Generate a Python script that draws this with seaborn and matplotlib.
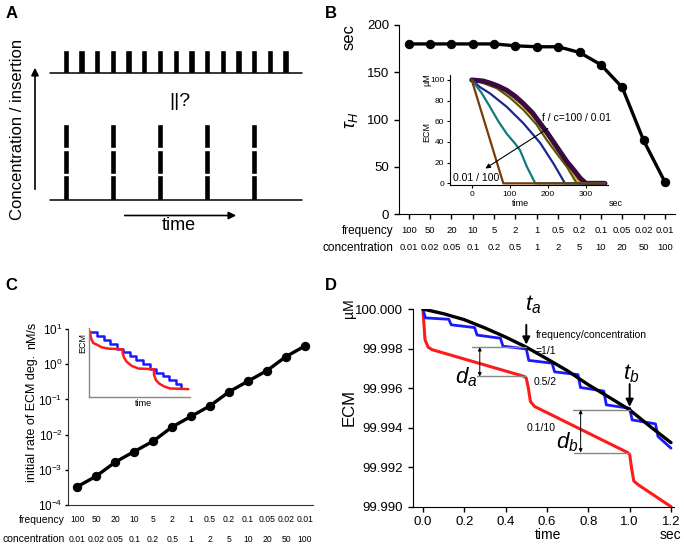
import matplotlib
matplotlib.use('Agg')
import matplotlib.pyplot as plt
import seaborn as sns
from matplotlib.ticker import NullLocator

# ---- panel A: pulse schedules (same total dose) ----
pulse_times_fast = [0, 1, 2, 3, 4, 5, 6, 7, 8, 9, 10, 11, 12, 13, 14]
pulse_times_slow = [0, 3, 6, 9, 12]
doses_per_slow_pulse = 3

# ---- shared x categories for B and C ----
frequency = ['100', '50', '20', '10', '5', '2', '1', '0.5', '0.2', '0.1', '0.05', '0.02', '0.01']
concentration = ['0.01', '0.02', '0.05', '0.1', '0.2', '0.5', '1', '2', '5', '10', '20', '50', '100']

# ---- panel B ----
tau_h = [180, 180, 180, 180, 180, 178, 177, 177, 171, 158, 134, 78, 34]

# panel B inset: ECM (uM) vs time (sec)
brown_t = [0, 83, 350]
brown_v = [100, 0, 0]
teal_t = [0, 25, 48, 70, 92, 115, 127, 145, 167, 350]
teal_v = [100, 88, 74, 60, 48, 38, 32, 16, 0, 0]
navy_t = [0, 22, 48, 92, 136, 180, 215, 245, 350]
navy_v = [100, 93, 87, 74, 58, 39, 19, 0, 0]
olive_t = [0, 30, 66, 100, 136, 170, 197, 225, 250, 276, 350]
olive_v = [100, 97, 92, 83, 71, 57, 42, 28, 16, 0, 0]
gold_t = [0, 30, 66, 100, 136, 170, 197, 225, 250, 285, 350]
gold_v = [100, 98, 94, 86, 75, 61, 47, 32, 19, 0, 0]
top_t = [0, 30, 48, 70, 92, 115, 136, 160, 180, 200, 224, 250, 268, 285, 300, 350]
top_v = [100, 99, 97, 94, 90, 84, 77, 68, 58, 48, 35, 21, 13, 5, 0, 0]

# ---- panel C ----
initial_rate = [3.3e-4, 6.6e-4, 1.65e-3, 3.3e-3, 6.5e-3, 1.65e-2, 3.3e-2,
                6.6e-2, 0.165, 0.33, 0.66, 1.65, 3.3]

# panel C inset (arbitrary units)
step_t = [0.1, 0.8, 1.5, 2.1, 2.8, 3.4, 4.1, 4.7, 5.4, 6.1, 6.7, 7.4, 8.0, 8.7, 9.2]
step_v = [0.94, 0.88, 0.82, 0.76, 0.70, 0.65, 0.59, 0.53, 0.47, 0.41, 0.35, 0.30, 0.24, 0.18, 0.12]
bolus_t = [0.07, 0.17, 0.4, 0.73, 1.23, 1.9, 3.33, 3.33, 3.47, 3.73, 4.23, 4.9,
           6.47, 6.47, 6.67, 7.0, 7.47, 8.07, 9.9]
bolus_v = [0.95, 0.85, 0.78, 0.76, 0.72, 0.70, 0.69, 0.64, 0.57, 0.51, 0.45, 0.41,
           0.40, 0.32, 0.24, 0.19, 0.15, 0.12, 0.11]

# ---- panel D ----
black_t = [0, 0.1, 0.2, 0.3, 0.4, 0.5, 0.6, 0.7, 0.8, 0.9, 1.0, 1.1, 1.2]
black_v = [100.0, 99.99976, 99.99946, 99.99904, 99.99858, 99.99807, 99.99748,
           99.99687, 99.99617, 99.99554, 99.9949, 99.99405, 99.99324]
blue_t = [0.0, 0.012, 0.125, 0.137, 0.25, 0.262, 0.375, 0.387, 0.5, 0.512, 0.625,
          0.637, 0.75, 0.762, 0.875, 0.887, 1.0, 1.012, 1.125, 1.137, 1.2]
blue_v = [100.0, 99.99955, 99.99948, 99.99920, 99.99906, 99.99868, 99.99852,
          99.99812, 99.99798, 99.99740, 99.99726, 99.99682, 99.99668, 99.99603,
          99.99585, 99.99515, 99.99498, 99.99439, 99.99419, 99.99355, 99.99296]
red_t = [0, 0.01, 0.025, 0.045, 0.49, 0.5, 0.51, 0.52, 0.54, 0.99, 1.0, 1.01,
         1.02, 1.04, 1.2]
red_v = [100.0, 99.99845, 99.99807, 99.99794, 99.99659, 99.9965, 99.996, 99.99532,
         99.99507, 99.99274, 99.99265, 99.9919, 99.9913, 99.99112, 99.99]

sns.set_style('ticks', {'axes.edgecolor': 'black', 'xtick.color': 'black',
                        'ytick.color': 'black', 'text.color': 'black'})
plt.rcParams['font.family'] = ['Liberation Sans', 'DejaVu Sans']
plt.rcParams['mathtext.fontset'] = 'custom'
plt.rcParams['mathtext.rm'] = 'Liberation Sans'
plt.rcParams['mathtext.it'] = 'Liberation Sans:italic'

W, H = 684, 546
fig = plt.figure(figsize=(W / 100, H / 100), dpi=100)


def box(left, top, right, bottom):
    return [left / W, 1 - bottom / H, (right - left) / W, (bottom - top) / H]


def ftext(x, y, s, **kw):
    kw.setdefault('ha', 'center')
    kw.setdefault('va', 'center')
    fig.text(x / W, 1 - y / H, s, **kw)


def tick_rows(ax, offsets, fs_num, fs_name, gap):
    for labels, name, dy in zip([frequency, concentration],
                                ['frequency', 'concentration'], offsets):
        for i, lab in enumerate(labels):
            ax.annotate(lab, xy=(i, 0), xycoords=('data', 'axes fraction'),
                        xytext=(0, -dy * 0.72), textcoords='offset points',
                        ha='center', va='center', fontsize=fs_num)
        ax.annotate(name, xy=(0, 0), xycoords=('data', 'axes fraction'),
                    xytext=(-gap * 0.72, -dy * 0.72), textcoords='offset points',
                    ha='right', va='center', fontsize=fs_name)


# ================= A =================
axA = fig.add_axes(box(0, 0, 342, 273))
axA.set_xlim(-4.182, 17.588)
axA.set_ylim(273, 0)
axA.axis('off')
top_base, low_base = 73.3, 200
span = [pulse_times_fast[0] - 1, pulse_times_fast[-1] + 1.04]
axA.plot(span, [top_base] * 2, color='black', lw=1.1)
axA.plot(span, [low_base] * 2, color='black', lw=1.1)
axA.bar(pulse_times_fast, -23, bottom=top_base, width=0.4, color='black')
for k in range(doses_per_slow_pulse):
    axA.bar(pulse_times_slow, -24.6, bottom=low_base - 25.9 * k, width=0.4, color='black')
axA.annotate('', xy=(-1.954, 65), xytext=(-1.954, 192),
             arrowprops=dict(arrowstyle='-|>', color='black', lw=1.2, mutation_scale=11))
axA.annotate('', xy=(11.03, 215.5), xytext=(3.58, 215.5),
             arrowprops=dict(arrowstyle='-|>', color='black', lw=1.2, mutation_scale=11))
ftext(18, 129, 'Concentration / insertion', rotation=90, fontsize=12)
ftext(180, 102, '||?', fontsize=14)
ftext(179, 225, 'time', fontsize=13)

# ================= B =================
axB = fig.add_axes(box(398.7, 25, 675, 214.3))
x_idx = list(range(len(frequency)))
sns.lineplot(x=x_idx, y=tau_h, ax=axB, color='black', lw=2.4, marker='o',
             markersize=6, markeredgecolor='black')
axB.set_xlim(-0.47, 12.47)
axB.set_ylim(0, 200)
axB.set_yticks([0, 50, 100, 150, 200])
axB.set_xticks(x_idx)
axB.set_xticklabels([])
axB.tick_params(direction='out', length=3.5, width=1, labelsize=9.5)
sns.despine(ax=axB)
tick_rows(axB, [16.7, 33.4], 6.8, 8.5, 15)
ftext(349, 37, 'sec', rotation=90, fontsize=12)
ftext(351, 120, r'$\tau_H$', rotation=90, fontsize=13)

axBi = fig.add_axes(box(450, 75, 608, 185))
curves = [(gold_t, gold_v, '#c9a100', 1.6), (olive_t, olive_v, '#5b5a00', 1.6),
          (top_t, top_v, '#3b0a40', 3.6), (navy_t, navy_v, '#1b2a8a', 1.6),
          (teal_t, teal_v, '#127a7a', 1.6), (brown_t, brown_v, '#7a3a05', 1.6)]
for t, v, c, lw in curves:
    sns.lineplot(x=t, y=v, ax=axBi, color=c, lw=lw, estimator=None, sort=False)
axBi.set_xlim(-57, 358)
axBi.set_ylim(-1.6, 104.8)
axBi.set_xticks([0, 100, 200, 300])
axBi.set_yticks([0, 20, 40, 60, 80, 100])
axBi.tick_params(direction='out', length=2, width=0.8, labelsize=6, pad=2)
for s in axBi.spines.values():
    s.set_linewidth(0.8)
sns.despine(ax=axBi)
axBi.annotate('', xy=(29.7, 12.9), xytext=(206, 54.5),
              arrowprops=dict(arrowstyle='-|>', color='black', lw=0.8, mutation_scale=7))
ftext(520, 204, 'time', fontsize=6.5)
ftext(616, 204, 'sec', fontsize=6.5)
ftext(427, 132, 'ECM', rotation=90, fontsize=6.5)
ftext(427, 80, 'µM', rotation=90, fontsize=6.5)
ftext(542, 118, 'f / c=100 / 0.01', ha='left', fontsize=7.5)
ftext(453, 178, '0.01 / 100', ha='left', fontsize=7.5)

# ================= C =================
axC = fig.add_axes(box(68.3, 329, 313, 505))
sns.lineplot(x=x_idx, y=initial_rate, ax=axC, color='black', lw=2.4, marker='o',
             markersize=6, markeredgecolor='black')
axC.set_yscale('log')
axC.set_ylim(1e-4, 10)
axC.set_xlim(-0.47, 12.42)
axC.set_yticks([1e-4, 1e-3, 1e-2, 1e-1, 1e0, 1e1])
axC.yaxis.set_minor_locator(NullLocator())
axC.set_xticks([])
axC.tick_params(direction='out', length=2.5, width=1, labelsize=8.5, pad=1.5)
for s in axC.spines.values():
    s.set_color('#333333')
sns.despine(ax=axC)
tick_rows(axC, [15, 34], 6.2, 7.5, 12.3)
ftext(32, 418, 'initial rate of ECM deg.', rotation=90, fontsize=9)
ftext(32, 335, 'nM/s', rotation=90, fontsize=9)

axCi = fig.add_axes(box(89.3, 328, 190, 396.7))
sns.lineplot(x=step_t, y=step_v, ax=axCi, color='#1a1aff', lw=1.8,
             drawstyle='steps-post', estimator=None, sort=False)
sns.lineplot(x=bolus_t, y=bolus_v, ax=axCi, color='#ff1a1a', lw=1.8,
             estimator=None, sort=False)
axCi.set_xlim(0, 10.07)
axCi.set_ylim(0, 1)
axCi.set_xticks([])
axCi.set_yticks([])
sns.despine(ax=axCi)
for s in ['left', 'bottom']:
    axCi.spines[s].set_color('#888888')
    axCi.spines[s].set_linewidth(1)
ftext(83, 343, 'ECM', rotation=90, fontsize=6.5)
ftext(143, 403, 'time', fontsize=6.5)

# ================= D =================
axD = fig.add_axes(box(413, 309, 674, 506.7))
sns.lineplot(x=red_t, y=red_v, ax=axD, color='#ff1a1a', lw=2.2, estimator=None, sort=False)
sns.lineplot(x=blue_t, y=blue_v, ax=axD, color='#1a1aff', lw=2.0, estimator=None, sort=False)
sns.lineplot(x=black_t, y=black_v, ax=axD, color='black', lw=2.4, estimator=None, sort=False)
axD.set_xlim(-0.048, 1.2145)
axD.set_ylim(99.990, 100.000)
xt = [0, 0.2, 0.4, 0.6, 0.8, 1.0, 1.2]
yt = [99.990, 99.992, 99.994, 99.996, 99.998, 100.000]
axD.set_xticks(xt)
axD.set_xticklabels([f'{v:.1f}' for v in xt])
axD.set_yticks(yt)
axD.set_yticklabels([f'{v:.3f}' for v in yt])
axD.tick_params(direction='out', length=3.5, width=1, labelsize=9.5)
sns.despine(ax=axD)

da_top, da_bot = black_v[5], red_v[4]
db_top, db_bot = black_v[10], red_v[9]
axD.plot([0.237, 0.5], [da_top] * 2, color='#888888', lw=1)
axD.plot([0.26, 0.5], [da_bot] * 2, color='#888888', lw=1)
axD.plot([0.725, 1.0], [db_top] * 2, color='#888888', lw=1)
axD.plot([0.73, 1.0], [db_bot] * 2, color='#888888', lw=1)
dbl = dict(arrowstyle='<|-|>', color='black', lw=0.7, mutation_scale=5,
           shrinkA=0, shrinkB=0)
axD.annotate('', xy=(0.275, da_top), xytext=(0.275, da_bot), arrowprops=dbl)
axD.annotate('', xy=(0.763, db_top), xytext=(0.763, db_bot), arrowprops=dbl)
down = dict(arrowstyle='-|>', color='black', lw=1.4, mutation_scale=11,
            shrinkA=0, shrinkB=0)
axD.annotate('', xy=(0.5, 99.9982), xytext=(0.5, 99.9992), arrowprops=down)
axD.annotate('', xy=(1.0, 99.99505), xytext=(1.0, 99.9962), arrowprops=down)

ftext(533, 305, r'$t_{a}$', fontsize=16)
ftext(631, 374, r'$t_{b}$', fontsize=16)
ftext(466, 377, r'$d_{a}$', fontsize=16)
ftext(567, 442, r'$d_{b}$', fontsize=16)
ftext(536, 335, 'frequency/concentration', ha='left', fontsize=7.5)
ftext(536, 351, '=1/1', ha='left', fontsize=7.5)
ftext(534, 382, '0.5/2', ha='left', fontsize=7.5)
ftext(527, 428, '0.1/10', ha='left', fontsize=7.5)
ftext(349, 408, 'ECM', rotation=90, fontsize=12)
ftext(349, 308, 'µM', rotation=90, fontsize=10)
ftext(548, 535, 'time', fontsize=10)
ftext(670, 535, 'sec', fontsize=10)

# panel letters
for x, y, s in [(12, 13, 'A'), (331, 13, 'B'), (11, 285, 'C'), (331, 285, 'D')]:
    ftext(x, y, s, fontweight='bold', fontsize=12)

fig.savefig('out.png', dpi=100)
